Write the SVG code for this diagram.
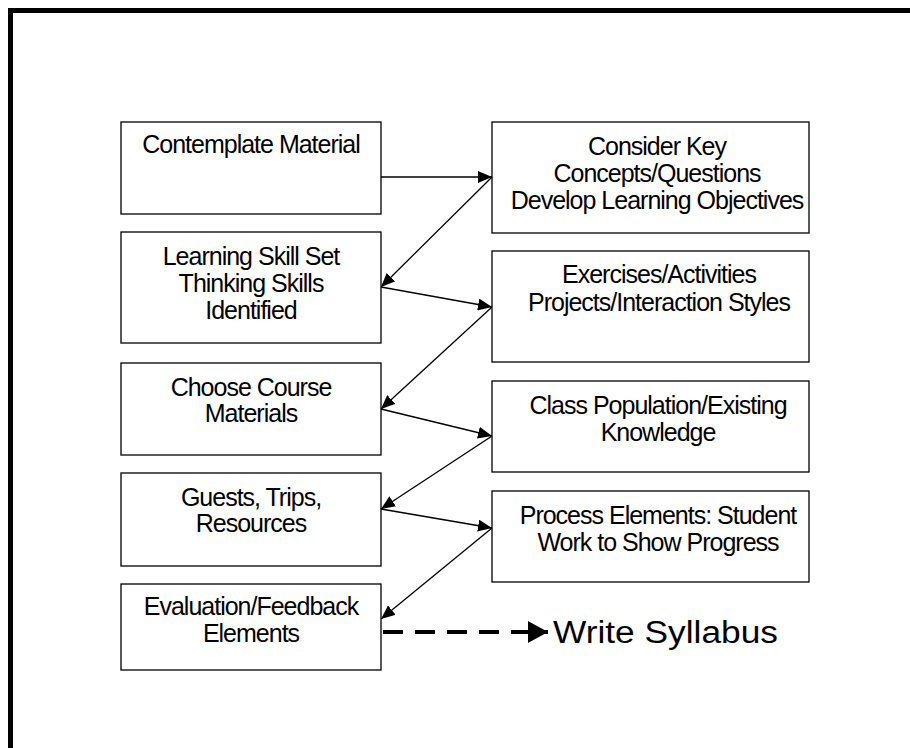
<svg xmlns="http://www.w3.org/2000/svg" width="910" height="748" viewBox="0 0 910 748">
  <style>
    .box { fill: #fff; stroke: #000; stroke-width: 1.3; }
    .lbl { font-family: "Liberation Sans", Arial, sans-serif; font-size: 25px; letter-spacing: -1px; fill: #000; text-anchor: middle; }
    .link { fill: none; stroke: #000; stroke-width: 1.3; marker-end: url(#head); }
  </style>
  <defs>
    <marker id="head" viewBox="0 0 14 12" refX="14" refY="6" markerWidth="14" markerHeight="12" markerUnits="userSpaceOnUse" orient="auto">
      <path d="M0,0 L14,6 L0,12 Z" fill="#000"/>
    </marker>
    <marker id="bighead" viewBox="0 0 20 22" refX="20" refY="11" markerWidth="20" markerHeight="22" markerUnits="userSpaceOnUse" orient="auto">
      <path d="M0,0 L20,11 L0,22 Z" fill="#000"/>
    </marker>
  </defs>

  <rect width="910" height="748" fill="#fff"/>
  <!-- outer frame, only top and left edges fall inside the page -->
  <rect x="10.5" y="10.5" width="1000" height="900" fill="none" stroke="#000" stroke-width="5"/>

  <g id="contemplate">
    <rect class="box" x="121" y="122" width="260" height="92"/>
    <text class="lbl" x="251" y="153">Contemplate Material</text>
  </g>
  <g id="skills">
    <rect class="box" x="121" y="232" width="260" height="111"/>
    <text class="lbl" x="251" y="265">Learning Skill Set</text>
    <text class="lbl" x="251" y="292">Thinking Skills</text>
    <text class="lbl" x="251" y="319">Identified</text>
  </g>
  <g id="materials">
    <rect class="box" x="121" y="363" width="260" height="92"/>
    <text class="lbl" x="251" y="396">Choose Course</text>
    <text class="lbl" x="251" y="422">Materials</text>
  </g>
  <g id="guests">
    <rect class="box" x="121" y="473" width="260" height="93"/>
    <text class="lbl" x="251" y="506">Guests, Trips,</text>
    <text class="lbl" x="251" y="532">Resources</text>
  </g>
  <g id="evaluation">
    <rect class="box" x="121" y="584" width="260" height="86"/>
    <text class="lbl" x="251" y="615">Evaluation/Feedback</text>
    <text class="lbl" x="251" y="642">Elements</text>
  </g>

  <g id="concepts">
    <rect class="box" x="492" y="122" width="317" height="111"/>
    <text class="lbl" x="657" y="155">Consider Key</text>
    <text class="lbl" x="657" y="182">Concepts/Questions</text>
    <text class="lbl" x="657" y="209">Develop Learning Objectives</text>
  </g>
  <g id="exercises">
    <rect class="box" x="492" y="251" width="317" height="111"/>
    <text class="lbl" x="659" y="283">Exercises/Activities</text>
    <text class="lbl" x="659" y="311">Projects/Interaction Styles</text>
  </g>
  <g id="population">
    <rect class="box" x="492" y="381" width="317" height="91"/>
    <text class="lbl" x="658" y="414">Class Population/Existing</text>
    <text class="lbl" x="658" y="441">Knowledge</text>
  </g>
  <g id="process">
    <rect class="box" x="492" y="491" width="317" height="91"/>
    <text class="lbl" x="658" y="524">Process Elements: Student</text>
    <text class="lbl" x="658" y="551">Work to Show Progress</text>
  </g>

  <g id="syllabus">
    <text x="553" y="643" font-family="'Liberation Sans', Arial, sans-serif" font-size="31" textLength="225" lengthAdjust="spacingAndGlyphs">Write Syllabus</text>
  </g>

  <g id="connectors">
    <line class="link" x1="381" y1="177" x2="492" y2="177"/>
    <line class="link" x1="492" y1="177" x2="381" y2="287"/>
    <line class="link" x1="381" y1="287" x2="492" y2="307"/>
    <line class="link" x1="492" y1="307" x2="381" y2="409"/>
    <line class="link" x1="381" y1="409" x2="492" y2="436"/>
    <line class="link" x1="492" y1="436" x2="381" y2="509"/>
    <line class="link" x1="381" y1="509" x2="492" y2="528"/>
    <line class="link" x1="492" y1="528" x2="381" y2="619"/>
    <line x1="383" y1="632" x2="548" y2="632" stroke="#000" stroke-width="4" stroke-dasharray="20 12" marker-end="url(#bighead)"/>
  </g>
</svg>
